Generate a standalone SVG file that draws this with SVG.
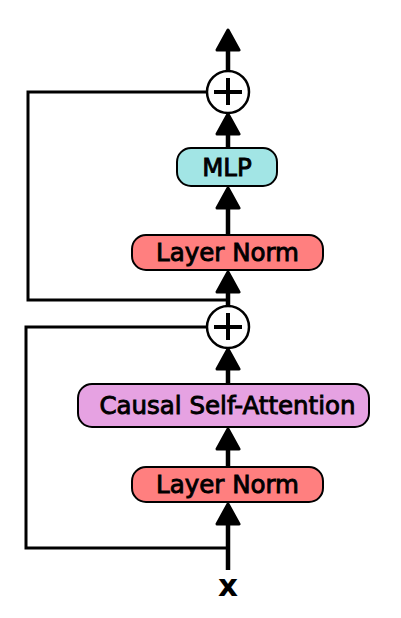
<svg xmlns="http://www.w3.org/2000/svg" width="401" height="618" viewBox="0 0 401 618">
<style>
.box{stroke:#000;stroke-width:2}
.ln{fill:#ff7f7f}
.mlp{fill:#a2e5e5}
.csa{fill:#e6a2e2}
.lbl{font-family:"DejaVu Sans",sans-serif;font-size:24.5px;fill:#000;stroke:#000;stroke-width:0.9;text-anchor:middle}
.main{stroke:#000;stroke-width:4.5;fill:none}
.skip{stroke:#000;stroke-width:3;fill:none}
.sum{fill:#fff;stroke:#000;stroke-width:2.5}
.plus{stroke:#000;stroke-width:4}
</style>
<defs>
<marker id="ah" viewBox="0 0 24 26" refX="2" refY="13" markerWidth="24" markerHeight="26" markerUnits="userSpaceOnUse" orient="auto">
<path d="M2,2 L22,13 L2,24 Z" fill="#000" stroke="#000" stroke-width="3" stroke-linejoin="round"/>
</marker>
</defs>
<g id="connectors">
<path class="skip" d="M207,92 H28 V300 H228"/>
<path class="skip" d="M207,327 H26 V548 H228"/>
<line class="main" x1="228" y1="71" x2="228" y2="50" marker-end="url(#ah)"/>
<line class="main" x1="228" y1="148" x2="228" y2="134" marker-end="url(#ah)"/>
<line class="main" x1="228" y1="235" x2="228" y2="208" marker-end="url(#ah)"/>
<line class="main" x1="228" y1="306" x2="228" y2="292" marker-end="url(#ah)"/>
<line class="main" x1="228" y1="384" x2="228" y2="369" marker-end="url(#ah)"/>
<line class="main" x1="228" y1="467" x2="228" y2="449" marker-end="url(#ah)"/>
<line class="main" x1="228" y1="570" x2="228" y2="524" marker-end="url(#ah)"/>
</g>
<g id="sum-top">
<circle class="sum" cx="228" cy="92" r="21"/>
<line class="plus" x1="214" y1="92" x2="242" y2="92"/>
<line class="plus" x1="228" y1="78" x2="228" y2="105"/>
</g>
<g id="mlp">
<rect class="box mlp" x="177" y="148" width="100" height="38" rx="14"/>
<text class="lbl" x="227" y="175.5">MLP</text>
</g>
<g id="layernorm-top">
<rect class="box ln" x="132" y="235" width="191" height="35" rx="14"/>
<text class="lbl" x="227.5" y="261">Layer Norm</text>
</g>
<g id="sum-bottom">
<circle class="sum" cx="228" cy="327" r="21"/>
<line class="plus" x1="214" y1="327" x2="242" y2="327"/>
<line class="plus" x1="228" y1="313" x2="228" y2="340"/>
</g>
<g id="attention">
<rect class="box csa" x="78" y="384" width="291" height="43" rx="14"/>
<text class="lbl" x="227.5" y="414">Causal Self-Attention</text>
</g>
<g id="layernorm-bottom">
<rect class="box ln" x="132" y="467" width="191" height="35" rx="14"/>
<text class="lbl" x="227.5" y="493">Layer Norm</text>
</g>
<g id="input">
<text x="228" y="596" style="font-family:'DejaVu Sans',sans-serif;font-size:31px;font-weight:bold;text-anchor:middle">x</text>
</g>
</svg>
